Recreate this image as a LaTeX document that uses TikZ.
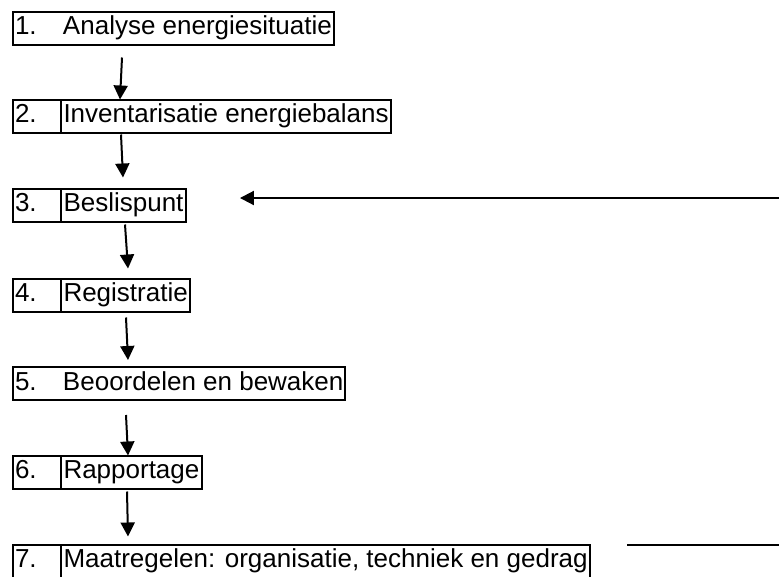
\documentclass[tikz,border=0pt]{standalone}
\usepackage{fontspec}
\setmainfont{Liberation Sans}
\usetikzlibrary{positioning,arrows.meta}

\tikzset{
  numbox/.style={draw, line width=2pt, outer sep=0pt, anchor=west,
    minimum height=33pt, inner xsep=2pt, inner ysep=0pt,
    text width=44pt, align=left, text height=19pt, text depth=6pt,
    font=\fontsize{26pt}{30pt}\selectfont},
  txtbox/.style={draw, line width=2pt, outer sep=0pt,
    minimum height=33pt, inner xsep=2.5pt, inner ysep=0pt,
    text height=19pt, text depth=6pt,
    font=\fontsize{26pt}{30pt}\selectfont},
  wholebox/.style={txtbox, anchor=west, inner xsep=2pt},
  flow/.style={line width=2pt, -{Triangle[length=14pt,width=14pt]}}
}
\newcommand{\nr}[1]{\makebox[48pt][l]{#1}}

\begin{document}
\begin{tikzpicture}[x=1pt,y=-1pt]
  \useasboundingbox (0,0) rectangle (779,576);

  % Define the steps
  \node[wholebox] (b1) at (13,28) {\nr{1.}Analyse energiesituatie};
  \node[numbox] (n2) at (13,116) {2.};
  \node[txtbox, right=0pt of n2] (t2) {Inventarisatie energiebalans};
  \node[numbox] (n3) at (13,205) {3.};
  \node[txtbox, right=0pt of n3] (t3) {Beslispunt};
  \node[numbox] (n4) at (13,295) {4.};
  \node[txtbox, right=0pt of n4] (t4) {Registratie};
  \node[wholebox] (b5) at (13,383.5) {\nr{5.}Beoordelen en bewaken};
  \node[numbox] (n6) at (13,472) {6.};
  \node[txtbox, right=0pt of n6] (t6) {Rapportage};
  \node[numbox] (n7) at (13,561) {7.};
  \node[txtbox, right=0pt of n7] (t7) {Maatregelen: organisatie, techniek en gedrag};

  % Feedback ends
  \coordinate (back) at (779,198);
  \coordinate (lineA) at (627,545);
  \coordinate (lineB) at (779,545);

  % Connect the steps
  \draw[flow] ([shift={(109,13)}]b1.south west) -- ([shift={(107,0)}]n2.north west);
  \draw[flow] ([shift={(108,2)}]n2.south west) -- ([shift={(110,-11)}]n3.north west);
  \draw[flow] ([shift={(112,3)}]n3.south west) -- ([shift={(115,-10)}]n4.north west);
  \draw[flow] ([shift={(113,6)}]n4.south west) -- ([shift={(115,-7)}]b5.north west);
  \draw[flow] ([shift={(113,15)}]b5.south west) -- ([shift={(115,0)}]n6.north west);
  \draw[flow] ([shift={(114,3)}]n6.south west) -- ([shift={(115,-8)}]n7.north west);
  \draw[flow] (back) -- ([shift={(54,-7)}]t3.east);
  \draw[line width=2pt] (lineA) -- (lineB);
\end{tikzpicture}
\end{document}
